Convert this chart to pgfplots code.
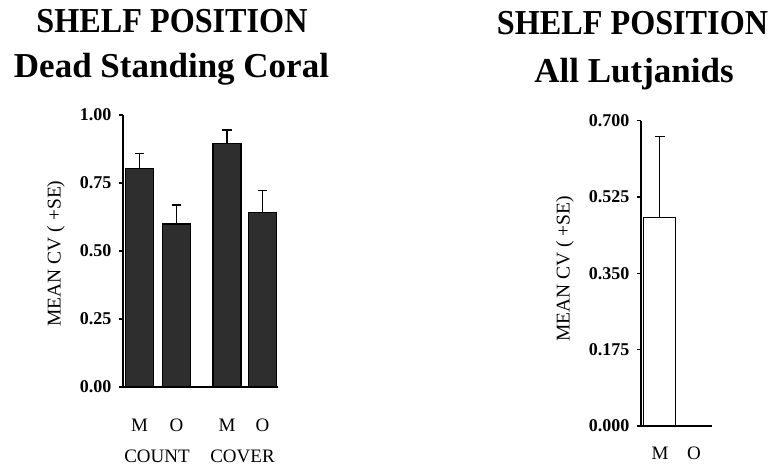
\documentclass[border=0pt]{standalone}
\usepackage{pgfplots}
\pgfplotsset{compat=1.18}
\usepackage{fontspec}
\setmainfont{Liberation Serif}
\newfontfamily\capsfont[FakeStretch=0.92]{Liberation Serif}

\pgfplotsset{
  panel/.style={
    scale only axis, anchor=south west, clip=false,
    axis lines=left, axis line style={-, line width=1.2pt, black},
    ymin=0, tick align=outside, major tick length=4pt,
    ytick style={line width=1.1pt, black},
    xtick style={draw=none},
    yticklabel style={anchor=east, xshift=-4pt, font=\bfseries\fontsize{18}{20}\selectfont,
      /pgf/number format/.cd, fixed, fixed zerofill, assume math mode=true},
    xticklabel style={anchor=base, font=\fontsize{19}{21}\selectfont},
    error bars/y dir=plus, error bars/y explicit,
  },
}

\begin{document}
\begin{tikzpicture}
\useasboundingbox (0,0) rectangle (774pt,466pt);

% Dead standing coral: count and cover, mainland (M) vs offshore (O)
\begin{axis}[panel, at={(123pt,79pt)}, width=155pt, height=272pt,
  xmin=0, xmax=155, ymax=1,
  ytick={0,0.25,0.5,0.75,1},
  yticklabel style={/pgf/number format/precision=2},
  xtick={16.5,53.5,104,139.5}, xticklabels={M,O,M,O},
  xticklabel style={yshift=-40pt},
  error bars/error bar style={line width=1.1pt, black},
  error bars/error mark options={rotate=90, black, line width=1.1pt, mark size=4.7pt}]
\addplot[ybar, bar width=28pt, bar shift=0pt, fill=black!82, draw=black, line width=1.3pt]
  coordinates {(16.5,0.804) +- (0,0.055)
               (53.5,0.599) +- (0,0.070)
               (104,0.896)  +- (0,0.049)
               (139.5,0.642) +- (0,0.082)};
\end{axis}

% All lutjanids
\begin{axis}[panel, at={(641pt,40pt)}, width=71pt, height=305.3pt,
  xmin=0, xmax=71, ymax=0.7,
  ytick={0,0.175,0.35,0.525,0.7},
  yticklabel style={/pgf/number format/precision=3},
  xtick={19,53}, xticklabels={M,O},
  xticklabel style={yshift=-29pt},
  error bars/error bar style={line width=0.9pt, black},
  error bars/error mark options={rotate=90, black, line width=0.9pt, mark size=5pt}]
\addplot[ybar, bar width=32pt, bar shift=0pt, fill=white, draw=black, line width=1.1pt]
  coordinates {(18.5,0.478) +- (0,0.186)};
\addplot[ybar, bar width=16pt, bar shift=0pt, fill=white, draw=black, line width=1.1pt]
  coordinates {(54,0.002)};
\end{axis}

% group labels under the coral panel
\node[anchor=base, font=\fontsize{19}{21}\selectfont] at (157pt,4pt) {COUNT};
\node[anchor=base, font=\fontsize{19}{21}\selectfont] at (242.5pt,4pt) {COVER};

% axis titles
\node[rotate=90, font=\fontsize{19.5}{22}\selectfont] at (56pt,212.5pt) {MEAN CV ( +SE)};
\node[rotate=90, font=\fontsize{19.5}{22}\selectfont] at (565pt,197pt) {MEAN CV ( +SE)};

% panel headings
\node[anchor=base, font=\capsfont\bfseries\fontsize{35}{40}\selectfont] at (172pt,433pt) {SHELF POSITION};
\node[anchor=base, font=\bfseries\fontsize{35}{40}\selectfont] at (171.5pt,388pt) {Dead Standing Coral};
\node[anchor=base, font=\capsfont\bfseries\fontsize{35}{40}\selectfont] at (632.5pt,431pt) {SHELF POSITION};
\node[anchor=base, font=\bfseries\fontsize{35}{40}\selectfont] at (634pt,383pt) {All Lutjanids};
\end{tikzpicture}
\end{document}
